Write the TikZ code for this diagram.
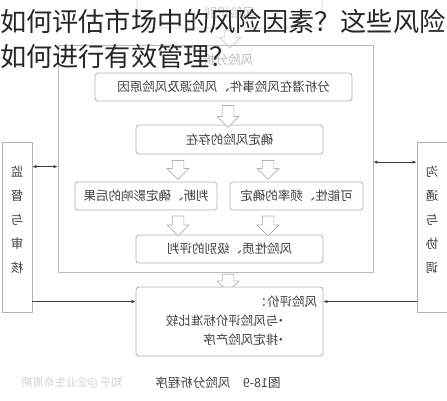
\documentclass[tikz,border=0pt]{standalone}
\usepackage{fontspec}
\usepackage{graphicx}
\setmainfont{Noto Sans CJK SC}
\usetikzlibrary{arrows.meta,shapes.arrows,calc}
\newcommand{\mirror}[1]{\reflectbox{#1}}

\begin{document}
\begin{tikzpicture}[x=1pt,y=-1pt,
		stage/.style={draw=gray!60,line width=0.8pt,rounded corners=3pt,fill=white,text=black!75,
			inner sep=0pt,font=\fontsize{12.5}{14}\selectfont},
		sidebar/.style={draw=gray!60,line width=0.8pt,fill=white,inner sep=0pt,
			minimum width=30pt,minimum height=170pt},
		upright/.style={text=black!75,inner sep=0pt,font=\fontsize{12.5}{14}\selectfont},
		hollow/.style={single arrow,draw=gray!60,line width=0.7pt,fill=white,rotate=-90,
			inner sep=5.5pt,single arrow head extend=5pt,single arrow tip angle=90,minimum height=22pt},
		link/.style={draw=black!75,line width=0.6pt},
		tip/.style={-{Latex[length=4pt,width=3.5pt]}}]
		\useasboundingbox (0,0) rectangle (447,400);

		% faded box above the frame
		\node[stage,draw=gray!40,text=gray!45,minimum width=185pt,minimum height=30pt] (ident) at (229.5,13) {\mirror{风险识别}};
		\node[hollow,draw=gray!40,minimum height=17pt] (a0) at (230,36.5) {};

		% analysis frame
		\node[draw=gray!55,line width=0.8pt,minimum width=315pt,minimum height=227pt,inner sep=0pt] (frame) at (215.5,158.5) {};
		\node[text=gray!55,font=\fontsize{12.5}{14}\selectfont] (ftitle) at (228,60) {\mirror{风险分析}};

		\node[stage,minimum width=257pt,minimum height=28pt] (event) at (223.5,87) {\mirror{分析潜在风险事件、风险源及风险原因}};
		\node[stage,minimum width=187pt,minimum height=29pt] (exist) at (229.5,139.5) {\mirror{确定风险的存在}};
		\node[stage,minimum width=142pt,minimum height=28pt] (impact) at (146,196) {\mirror{判断、确定影响的后果}};
		\node[stage,minimum width=133pt,minimum height=28pt] (freq) at (296.5,196) {\mirror{可能性、频率的确定}};
		\node[stage,minimum width=187pt,minimum height=28pt] (grade) at (229.5,249) {\mirror{风险性质、级别的评判}};

		\node[hollow] (a1) at (228,113.5) {};
		\node[hollow,minimum height=19pt] (a2) at (178,167) {};
		\node[hollow,minimum height=19pt] (a3) at (268,167) {};
		\node[hollow,minimum height=20pt] (a4) at (178,223) {};
		\node[hollow,minimum height=20pt] (a5) at (268,223) {};
		\node[hollow,minimum height=16pt] (a6) at (228,280) {};

		% evaluation
		\node[stage,minimum width=187pt,minimum height=69pt] (judge) at (229.5,321.5)
			{\mirror{\renewcommand{\arraystretch}{1.35}\begin{tabular}{@{}l@{\hspace{24pt}}}风险评价：\\\hspace*{30pt}•\kern-4pt 与风险评价标准比较\\\hspace*{30pt}•\kern-4pt 排定风险产序\end{tabular}}};

		% side bars
		\node[sidebar] (watch) at (17,227) {};
		\node[sidebar] (talk) at (432,227.5) {};
		\node[upright] (watchtext) at (17,220) {\mirror{\renewcommand{\arraystretch}{1.72}\begin{tabular}{@{}c@{}}监\\督\\与\\审\\核\end{tabular}}};
		\node[upright] (talktext) at (432,220) {\mirror{\renewcommand{\arraystretch}{1.72}\begin{tabular}{@{}c@{}}沟\\通\\与\\协\\调\end{tabular}}};

		\coordinate (wl) at ([yshift=-25pt]watch.north east);
		\coordinate (tl) at ([yshift=-20pt]talk.north west);
		\coordinate (jl) at ([yshift=-15pt]judge.north west);
		\coordinate (jr) at ([yshift=-15pt]judge.north east);
		\draw[link,{Latex[length=4pt,width=3.5pt]}-{Latex[length=4pt,width=3.5pt]}] (wl) -- (wl -| frame.west);
		\draw[link,{Latex[length=4pt,width=3.5pt]}-{Latex[length=4pt,width=3.5pt]}] (tl) -- (tl -| frame.east);
		\draw[link,tip] (jl -| watch.east) -- (jl);
		\draw[link,tip] (jr -| talk.west) -- (jr);

		% caption and mark
		\node[text=black!75,font=\fontsize{12.5}{14}\selectfont] (cap) at (218,383) {\mirror{图18-9\quad 风险分析程序}};
		\node[text=gray!35,font=\fontsize{11}{13}\selectfont] (mark) at (72,383) {\mirror{知乎 @企业生命周期}};

		% question on top
		\node[anchor=west,inner sep=0pt,text=black!85,font=\fontsize{26.2}{28}\selectfont] (q1) at (0,21) {如何评估市场中的风险因素？这些风险};
		\node[anchor=west,inner sep=0pt,text=black!85,font=\fontsize{26.2}{28}\selectfont] (q2) at (0,57) {如何进行有效管理？};
	\end{tikzpicture}
\end{document}
